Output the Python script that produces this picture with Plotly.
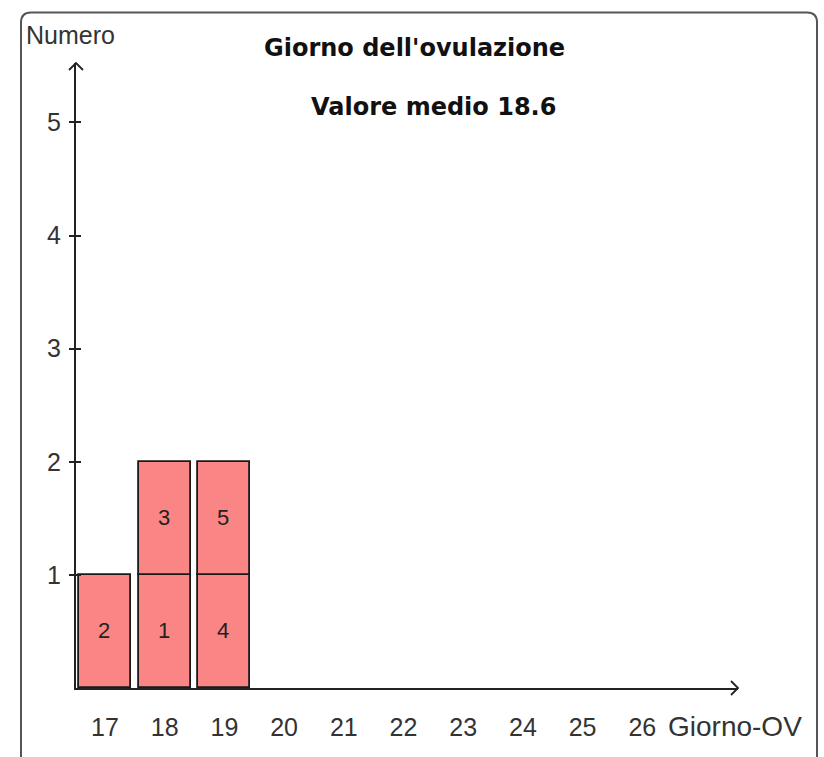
import plotly.graph_objects as go

# ---- data ----
case_ids = ["2", "1", "3", "4", "5"]
case_days = [17, 18, 18, 19, 19]
day_ticks = [17, 18, 19, 20, 21, 22, 23, 24, 25, 26]
count_ticks = [1, 2, 3, 4, 5]
title_line1 = "Giorno dell'ovulazione"
title_line2 = "Valore medio 18.6"
y_label = "Numero"
x_label = "Giorno-OV"

# stack each case on top of earlier cases of the same day
seen = {}
bases = []
for d in case_days:
    bases.append(seen.get(d, 0))
    seen[d] = seen.get(d, 0) + 1
heights = [1] * len(case_days)

# ---- geometry (pixels) ----
FW, FH = 824, 757
L, R, T, B = 76, 738, 63, 688.5
W, H = R - L, B - T
def px(x): return (x - L) / W
def py(y): return (B - y) / H

x_unit = 59.7
x0 = 17 - (105 - L) / x_unit
x1 = x0 + W / x_unit
y_unit = 113.2
y1 = H / y_unit

fig = go.Figure()
fig.add_trace(go.Bar(
    x=case_days, y=heights, base=bases, text=case_ids,
    width=0.87,
    marker=dict(color="#F98585", line=dict(color="#1a1a1a", width=1.8)),
    textposition="inside", insidetextanchor="middle",
    textfont=dict(family="Liberation Sans, Arial", size=22, color="#222"),
    textangle=0, constraintext="none",
    hoverinfo="skip", showlegend=False,
))
# invisible trace to host the overlay axis for cross ticks
fig.add_trace(go.Scatter(x=[x0], y=[0], yaxis="y2", mode="markers",
                         marker=dict(opacity=0), showlegend=False, hoverinfo="skip"))

tick_font = dict(family="Liberation Sans, Arial", size=25, color="#333")
fig.update_layout(
    width=FW, height=FH,
    margin=dict(l=L, r=FW - R, t=T, b=FH - B, pad=0),
    paper_bgcolor="white", plot_bgcolor="white",
    bargap=0,
    xaxis=dict(range=[x0, x1], tickvals=day_ticks, ticktext=[str(v) for v in day_ticks],
               showgrid=False, zeroline=False, showline=True, linecolor="#222", linewidth=2,
               ticks="", tickfont=tick_font, ticklabelstandoff=16, fixedrange=True),
    yaxis=dict(range=[0, y1], tickvals=count_ticks, ticktext=[str(v) for v in count_ticks],
               showgrid=False, zeroline=False, showline=True, linecolor="#222", linewidth=2,
               ticks="outside", ticklen=5, tickwidth=1.5, tickcolor="#222",
               tickfont=tick_font, ticklabelstandoff=3, fixedrange=True),
    yaxis2=dict(range=[0, y1], overlaying="y", side="left", tickvals=count_ticks,
                showticklabels=False, showgrid=False, zeroline=False, showline=False,
                ticks="inside", ticklen=5, tickwidth=1.5, tickcolor="#222", fixedrange=True),
)

# frame with rounded corners (bottom extends past the image)
r = 10
fl, ft, fr, fb = 21, 12.5, 817, 775
path = (f"M {px(fl)},{py(fb)} L {px(fl)},{py(ft + r)} "
        f"Q {px(fl)},{py(ft)} {px(fl + r)},{py(ft)} "
        f"L {px(fr - r)},{py(ft)} Q {px(fr)},{py(ft)} {px(fr)},{py(ft + r)} "
        f"L {px(fr)},{py(fb)}")
fig.add_shape(type="path", path=path, xref="paper", yref="paper",
              line=dict(color="#555", width=2), layer="above")

# open chevron arrowheads at the axis ends
ya = f"M {px(69)},{py(70)} L {px(L)},{py(T)} L {px(83)},{py(70)}"
xa = f"M {px(731)},{py(681.5)} L {px(R)},{py(B)} L {px(731)},{py(695.5)}"
for p in (ya, xa):
    fig.add_shape(type="path", path=p, xref="paper", yref="paper",
                  line=dict(color="#222", width=1.8), layer="above")

title_font = dict(family="DejaVu Sans", size=24, color="#111", weight="bold")
fig.add_annotation(text=title_line1, x=px(414), y=py(48), xref="paper", yref="paper",
                   showarrow=False, font=title_font, xanchor="center", yanchor="middle")
fig.add_annotation(text=title_line2, x=px(433), y=py(107), xref="paper", yref="paper",
                   showarrow=False, font=title_font, xanchor="center", yanchor="middle")
fig.add_annotation(text=y_label, x=px(24), y=py(35), xref="paper", yref="paper",
                   showarrow=False, xanchor="left", yanchor="middle",
                   font=dict(family="Liberation Sans, Arial", size=25, color="#333"))
fig.add_annotation(text=x_label, x=px(666), y=py(727), xref="paper", yref="paper",
                   showarrow=False, xanchor="left", yanchor="middle",
                   font=dict(family="Liberation Sans, Arial", size=28, color="#333"))

fig.write_html("out.html", config={"displayModeBar": False},
               post_script="document.body.style.margin='0';")
